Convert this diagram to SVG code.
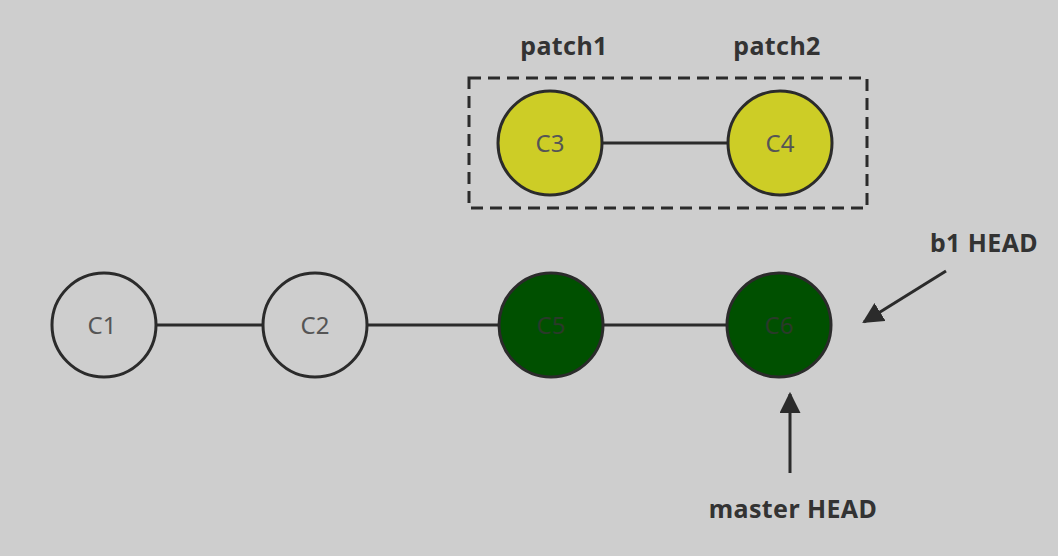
<svg xmlns="http://www.w3.org/2000/svg" width="1058" height="556" viewBox="0 0 1058 556">
<style>
.c{stroke:#2b2b2b;stroke-width:3}
.w{fill:#cecece}.y{fill:#cdcd26}.g{fill:#005000}
.t{font-family:"Noto Sans","Open Sans",sans-serif;font-size:24px;fill:#555;text-anchor:middle}
.tg{fill:#2a3a2a}
.l{font-family:"Noto Sans","Open Sans",sans-serif;font-size:25px;font-weight:bold;fill:#333;text-anchor:middle;letter-spacing:0.4px}
.e{stroke:#2b2b2b;stroke-width:3;fill:none}
</style>
<defs>
<marker id="ah" viewBox="0 0 10 10" refX="9" refY="5" markerWidth="7" markerHeight="7" markerUnits="strokeWidth" orient="auto">
<path d="M0,0 L10,5 L0,10 Z" fill="#2b2b2b"/>
</marker>
</defs>
<rect width="1058" height="556" fill="#cecece"/>
<g id="connectors">
<line class="e" x1="156" y1="325" x2="263" y2="325"/>
<line class="e" x1="367" y1="325" x2="499" y2="325"/>
<line class="e" x1="603" y1="325" x2="727" y2="325"/>
<line class="e" x1="602" y1="143" x2="728" y2="143"/>
<line class="e" x1="946" y1="271" x2="864" y2="322" marker-end="url(#ah)"/>
<line class="e" x1="790" y1="473" x2="790" y2="394" marker-end="url(#ah)"/>
</g>
<g id="group-patch"><rect x="469" y="78" width="398" height="130" fill="none" stroke="#2b2b2b" stroke-width="3" stroke-dasharray="12,7"/></g>
<g id="C1"><circle class="c w" cx="104" cy="325" r="52"/><text class="t" x="102" y="334">C1</text></g>
<g id="C2"><circle class="c w" cx="315" cy="325" r="52"/><text class="t" x="315" y="334">C2</text></g>
<g id="C5"><circle class="c g" cx="551" cy="325" r="52"/><text class="t tg" x="551" y="334">C5</text></g>
<g id="C6"><circle class="c g" cx="779" cy="325" r="52"/><text class="t tg" x="779" y="334">C6</text></g>
<g id="C3"><circle class="c y" cx="550" cy="143" r="52"/><text class="t" x="550" y="152">C3</text></g>
<g id="C4"><circle class="c y" cx="780" cy="143" r="52"/><text class="t" x="780" y="152">C4</text></g>
<g id="label-patch1"><text class="l" x="564" y="55">patch1</text></g>
<g id="label-patch2"><text class="l" x="777" y="55">patch2</text></g>
<g id="label-b1"><text class="l" x="984" y="252">b1 HEAD</text></g>
<g id="label-master"><text class="l" x="793" y="518">master HEAD</text></g>
</svg>
